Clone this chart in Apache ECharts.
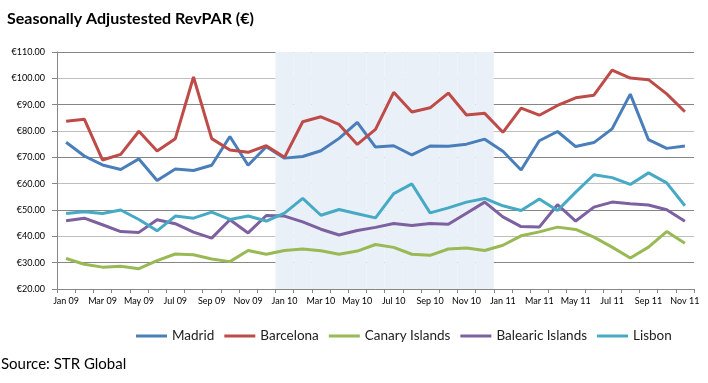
<!DOCTYPE html>
<html>
<head>
<meta charset="utf-8">
<script src="https://cdn.jsdelivr.net/npm/echarts@6/dist/echarts.min.js"></script>
<style>
html,body{margin:0;padding:0;background:#fff;}
#chart{width:708px;height:383px;}
</style>
</head>
<body>
<div id="chart"></div>
<script>
const months = ['Jan 09','Feb 09','Mar 09','Apr 09','May 09','Jun 09','Jul 09','Aug 09','Sep 09','Oct 09','Nov 09','Dec 09',
  'Jan 10','Feb 10','Mar 10','Apr 10','May 10','Jun 10','Jul 10','Aug 10','Sep 10','Oct 10','Nov 10','Dec 10',
  'Jan 11','Feb 11','Mar 11','Apr 11','May 11','Jun 11','Jul 11','Aug 11','Sep 11','Oct 11','Nov 11'];

const madrid = [75.7,70.5,67.1,65.4,69.4,61.2,65.6,65.0,67.0,77.9,67.0,74.0,
  69.7,70.3,72.5,77.2,83.3,73.9,74.4,70.9,74.3,74.2,75.0,76.9,
  72.3,65.2,76.3,79.8,74.1,75.6,80.8,94.0,76.7,73.4,74.3];
const barcelona = [83.7,84.5,69.0,71.1,79.9,72.4,77.1,100.5,77.1,72.8,71.9,74.4,
  70.0,83.5,85.4,82.5,74.9,80.6,94.7,87.2,88.8,94.4,86.1,86.7,
  79.5,88.7,86.0,89.7,92.6,93.6,103.1,100.1,99.5,94.1,87.3];
const canary = [31.6,29.4,28.3,28.6,27.7,30.8,33.3,33.0,31.4,30.4,34.6,33.2,
  34.6,35.2,34.5,33.2,34.4,36.9,35.8,33.2,32.8,35.2,35.6,34.6,
  36.6,40.2,41.7,43.5,42.6,39.7,35.9,31.8,35.9,41.8,37.4];
const balearic = [45.9,46.9,44.4,41.8,41.5,46.3,44.8,41.6,39.3,46.3,41.3,47.9,
  47.7,45.5,42.7,40.5,42.2,43.4,44.9,44.1,44.9,44.6,48.8,53.0,
  47.4,43.7,43.5,52.0,45.8,51.1,53.0,52.4,51.9,50.1,45.7];
const lisbon = [48.7,49.3,48.7,50.0,46.4,42.1,47.7,46.9,49.2,46.4,47.7,45.8,
  48.8,54.4,48.0,50.2,48.6,47.0,56.2,59.9,48.9,50.8,53.0,54.4,
  51.6,49.8,54.2,49.8,56.8,63.4,62.3,59.7,64.1,60.3,51.6];

const seriesNames = ['Madrid','Barcelona','Canary Islands','Balearic Islands','Lisbon'];
const seriesData = [madrid, barcelona, canary, balearic, lisbon];
const seriesColors = ['#4A7EBB','#BE4B48','#98B954','#7D60A0','#46AAC5'];

const shadeFrom = 'Jan 10';
const shadeTo = 'Dec 10';
const yMin = 20, yMax = 110, yStep = 10;

const i0 = months.indexOf(shadeFrom), i1 = months.indexOf(shadeTo);
const shadeData = months.map((m, i) => (i >= i0 && i <= i1) ? yMax : null);

const chart = echarts.init(document.getElementById('chart'), null, {renderer: 'canvas'});
const font = 'Lato';

chart.setOption({
  animation: false,
  backgroundColor: '#fff',
  title: {
    text: 'Seasonally Adjustested RevPAR (€)',
    left: 2, top: 6,
    textStyle: {fontFamily: font, fontSize: 16, fontWeight: 'bold', color: '#000'}
  },
  graphic: [{
    type: 'text', left: 1, top: 357,
    style: {text: 'Source: STR Global', font: '15px ' + font, fill: '#000'}
  }],
  legend: {
    data: seriesNames,
    left: 131, top: 324,
    icon: 'rect', itemWidth: 31, itemHeight: 3, itemGap: 10,
    textStyle: {fontFamily: font, fontSize: 13.5, color: '#222'}
  },
  grid: {left: 57, right: 14, top: 52, bottom: 94, containLabel: false},
  xAxis: {
    type: 'category', data: months, boundaryGap: true,
    axisLine: {show: true, lineStyle: {color: '#868686', width: 1}},
    axisTick: {show: true, interval: 0, length: 4, lineStyle: {color: '#868686'}},
    axisLabel: {interval: 1, margin: 8, fontFamily: font, fontSize: 9, color: '#000'},
    splitLine: {show: false}
  },
  yAxis: {
    type: 'value', min: yMin, max: yMax, interval: yStep,
    axisLine: {show: true, lineStyle: {color: '#868686', width: 1}},
    axisTick: {show: true, length: 5, lineStyle: {color: '#868686'}},
    axisLabel: {margin: 12, fontFamily: font, fontSize: 9, color: '#000',
      formatter: v => '€' + v.toFixed(2)},
    splitLine: {show: true, lineStyle: {color: ['#bfbfbf', '#868686'], width: 1}}
  },
  series: [{
    name: 'shade', type: 'bar', data: shadeData, barWidth: '100%', barGap: '-100%',
    itemStyle: {color: '#EAF0F8'}, silent: true, z: 0
  }].concat(seriesNames.map((n, k) => ({
    name: n, type: 'line', data: seriesData[k], symbol: 'none',
    lineStyle: {width: 3, color: seriesColors[k]},
    itemStyle: {color: seriesColors[k]},
    z: 2 + k
  })))
});
</script>
</body>
</html>
